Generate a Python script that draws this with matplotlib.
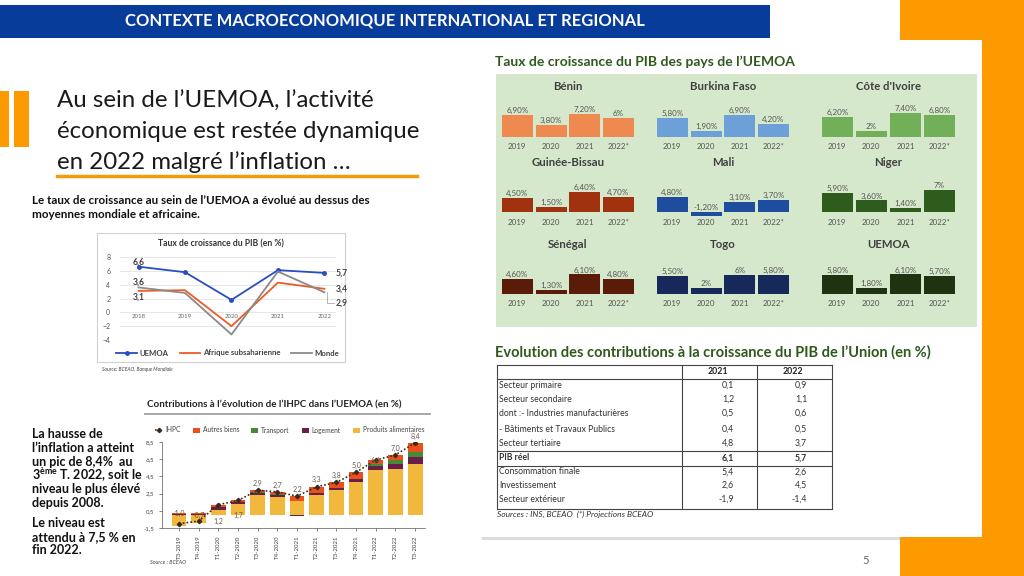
import matplotlib.pyplot as plt
import numpy as np
from matplotlib.patches import Rectangle
from matplotlib.lines import Line2D

plt.rcParams['font.family'] = ['Lato', 'DejaVu Sans']
plt.rcParams['mathtext.fontset'] = 'custom'
plt.rcParams['mathtext.rm'] = 'Lato'
plt.rcParams['mathtext.bf'] = 'Lato:bold'

# --- données : croissance du PIB (graphique en lignes)
years = ['2018', '2019', '2020', '2021', '2022']
pib_uemoa = [6.6, 5.8, 1.8, 6.1, 5.7]
pib_afrique = [3.1, 3.2, -2.0, 4.3, 3.4]
pib_monde = [3.6, 2.8, -3.2, 5.9, 2.9]

# --- données : contributions à l'IHPC
trimestres = ['T3-2019', 'T4-2019', 'T1-2020', 'T2-2020', 'T3-2020', 'T4-2020', 'T1-2021',
              'T2-2021', 'T3-2021', 'T4-2021', 'T1-2022', 'T2-2022', 'T3-2022']
ihpc = [-1.0, -0.7, 1.2, 1.7, 2.9, 2.7, 2.2, 3.3, 3.8, 5.0, 6.4, 7.0, 8.4]
alimentaires = [-1.25, -0.9, 0.65, 1.3, 2.3, 2.1, 1.6, 2.3, 2.9, 3.8, 5.2, 5.4, 6.0]
logement = [0.1, 0.1, 0.25, 0.2, 0.25, 0.2, -0.1, 0.25, 0.25, 0.35, 0.5, 0.55, 0.7]
transport = [0.05, 0.05, 0.05, 0.05, 0.1, 0.1, 0.05, 0.05, 0.05, 0.05, 0.3, 0.4, 0.6]
autres = [0.1, 0.05, 0.25, 0.15, 0.25, 0.3, 0.6, 0.7, 0.6, 0.8, 0.4, 0.65, 1.1]

# --- données : croissance par pays
pays_annees = ['2019', '2020', '2021', '2022*']
pays = ['Bénin', 'Burkina Faso', "Côte d'Ivoire", 'Guinée-Bissau', 'Mali', 'Niger',
        'Sénégal', 'Togo', 'UEMOA']
croissance = [
    [6.9, 3.8, 7.2, 6.0],
    [5.8, 1.9, 6.9, 4.2],
    [6.2, 2.0, 7.4, 6.8],
    [4.5, 1.5, 6.4, 4.7],
    [4.8, -1.2, 3.1, 3.7],
    [5.9, 3.6, 1.4, 7.0],
    [4.6, 1.3, 6.1, 4.8],
    [5.5, 2.0, 6.0, 5.8],
    [5.8, 1.8, 6.1, 5.7],
]
couleurs_pays = ['#ee8a4f', '#6d9fd9', '#71b059', '#a1320f', '#1f4d9d', '#2e5c1d',
                 '#5a1b08', '#17295a', '#1f3311']

# --- données : tableau des contributions
lignes_tab = ['Secteur primaire', 'Secteur secondaire', 'dont :- Industries manufacturières',
              '- Bâtiments et Travaux Publics', 'Secteur tertiaire', 'PIB réel',
              'Consommation finale', 'Investissement', 'Secteur extérieur']
tab_2021 = ['0,1', '1,2', '0,5', '0,4', '4,8', '6,1', '5,4', '2,6', '-1,9']
tab_2022 = ['0,9', '1,1', '0,6', '0,5', '3,7', '5,7', '2,6', '4,5', '-1,4']

W, H = 1024, 576
fig = plt.figure(figsize=(10.24, 5.76), dpi=100)


def px_axes(x0, y0, x1, y1):
    return fig.add_axes([x0 / W, 1 - y1 / H, (x1 - x0) / W, (y1 - y0) / H])


def px_text(x, y, s, **kw):
    kw.setdefault('va', 'center')
    fig.text(x / W, 1 - y / H, s, **kw)


def px_rect(x0, y0, x1, y1, **kw):
    kw.setdefault('zorder', -5)
    fig.patches.append(Rectangle((x0 / W, 1 - y1 / H), (x1 - x0) / W, (y1 - y0) / H,
                                 transform=fig.transFigure, **kw))


def px_line(x0, y0, x1, y1, **kw):
    fig.lines.append(Line2D([x0 / W, x1 / W], [1 - y0 / H, 1 - y1 / H],
                            transform=fig.transFigure, **kw))


def fr(v, nd=1):
    return f'{v:.{nd}f}'.replace('.', ',')


# fond de la diapositive
px_rect(900, 0, 1024, 576, color='#fd9a00', lw=0)
px_rect(0, 5, 770, 38, color='#073c9a', lw=0)
px_text(385, 21, 'CONTEXTE MACROECONOMIQUE INTERNATIONAL ET REGIONAL', color='white',
        fontsize=12, fontweight='bold', ha='center')
px_rect(0, 91, 9, 147, color='#fd9a00', lw=0)
px_rect(14, 91, 29, 147, color='#fd9a00', lw=0)
for i, t in enumerate(["Au sein de l’UEMOA, l’activité", 'économique est restée dynamique',
                       'en 2022 malgré l’inflation …']):
    px_text(57, 101 + 30.5 * i, t, fontsize=17.3, color='#1a1a1a')
px_line(57, 176, 417, 176, color='#f39c12', lw=2.5)
px_text(32, 201, 'Le taux de croissance au sein de l’UEMOA a évolué au dessus des',
        fontsize=8.4, fontweight='bold', color='#111111')
px_text(32, 215, 'moyennes mondiale et africaine.', fontsize=8.4, fontweight='bold', color='#111111')

# carte blanche à droite
px_rect(482, 43, 985, 540, color='#dcdcdc', lw=0, zorder=-6)
px_rect(479, 40, 982, 537, color='white', lw=0)
px_rect(496, 74, 977, 327, color='#d6e8cb', lw=0)
px_text(495, 62, 'Taux de croissance du PIB des pays de l’UEMOA', fontsize=10,
        fontweight='bold', color='#2f5a1c')

# --- graphique 1 : croissance du PIB
px_rect(97, 233, 345, 362, facecolor='white', edgecolor='#d0d0d0', lw=0.8)
px_text(221, 244, 'Taux de croissance du PIB (en %)', fontsize=6.2, fontweight='bold',
        color='#333333', ha='center')
ax1 = px_axes(120, 257, 336, 340)
x = np.arange(len(years))
l1, = ax1.plot(x, pib_uemoa, color='#2a4dc0', lw=1.3, marker='o', ms=2.5)
l2, = ax1.plot(x, pib_afrique, color='#f05a22', lw=1.3)
l3, = ax1.plot(x, pib_monde, color='#8a8a8a', lw=1.3)
ax1.set_ylim(-4, 8)
ax1.set_xlim(-0.4, 4.25)
ax1.set_yticks(range(-4, 9, 2))
ax1.yaxis.grid(True, color='#e3e3e3', lw=0.6)
ax1.set_axisbelow(True)
ax1.set_xticks([])
ax1.tick_params(axis='y', length=0, labelsize=5, labelcolor='#555555', pad=7)
for s in ax1.spines.values():
    s.set_visible(False)
ax1.patch.set_alpha(0)
for i, yr in enumerate(years):
    ax1.text(i, -0.6, yr, fontsize=4.4, color='#666666', ha='center', va='center')
lab_kw = dict(fontsize=6.2, fontweight='bold', color='#444444', va='center')
ax1.text(0, pib_uemoa[0] + 0.7, fr(pib_uemoa[0]), ha='center', **lab_kw)
ax1.text(0, pib_monde[0] + 0.8, fr(pib_monde[0]), ha='center', **lab_kw)
ax1.text(0, pib_afrique[0] - 0.9, fr(pib_afrique[0]), ha='center', **lab_kw)
ax1.text(4.25, pib_uemoa[4], fr(pib_uemoa[4]), ha='left', **lab_kw)
ax1.text(4.25, pib_afrique[4], fr(pib_afrique[4]), ha='left', **lab_kw)
ax1.text(4.25, pib_monde[4] - 1.6, fr(pib_monde[4]), ha='left', **lab_kw)
ax1.plot([4.05, 4.05, 4.2], [pib_monde[4], pib_monde[4] - 1.6, pib_monde[4] - 1.6],
         color='#999999', lw=0.5, clip_on=False)
fig.legend([l1, l2, l3], ['UEMOA', 'Afrique subsaharienne', 'Monde'], ncol=3,
           loc='center', bbox_to_anchor=(228 / W, 1 - 353 / H), frameon=False,
           prop={'size': 5.6, 'weight': 'bold'}, handlelength=2.6, columnspacing=1.4,
           handletextpad=0.4, labelcolor='#444444')
px_text(102, 370, 'Source: BCEAO, Banque Mondiale', fontsize=3.6, style='italic',
        color='#444444')

# --- graphique 2 : contributions à l'IHPC
px_text(147, 405, 'Contributions à l’évolution de l’IHPC dans l’UEMOA (en %)', fontsize=7,
        fontweight='bold', color='#222222')
px_line(145, 414, 430, 414, color='#a0a0a0', lw=1.3)
ax2 = px_axes(162, 442, 425, 528)
xq = np.arange(len(trimestres))
comps = [(alimentaires, '#f2b73d', 'Produits alimentaires'), (logement, '#6a1f4b', 'Logement'),
         (transport, '#468a36', 'Transport'), (autres, '#ea4f1c', 'Autres biens')]
pos = np.zeros(len(xq))
neg = np.zeros(len(xq))
handles = {}
for vals, col, name in comps:
    v = np.array(vals)
    bottom = np.where(v >= 0, pos, neg)
    handles[name] = ax2.bar(xq, v, 0.75, bottom=bottom, color=col, lw=0)
    pos = pos + np.where(v >= 0, v, 0)
    neg = neg + np.where(v < 0, v, 0)
h_ihpc, = ax2.plot(xq, ihpc, color='#3b2a1a', ls=(0, (1, 1.3)), lw=1.2, marker='D', ms=2.2)
lab_off = [1.2, 0.6, -1.9, -1.8, 0.8, 0.8, 0.8, 0.8, 0.8, 0.8, 0.0, 0.8, 0.8]
for i, v in enumerate(ihpc):
    ax2.text(i, v + lab_off[i], fr(v), fontsize=5, color='#6b5a4a', ha='center', va='center')
ax2.set_ylim(-1.5, 8.5)
ax2.set_xlim(-0.86, 12.5)
yt = [-1.5, 0.5, 2.5, 4.5, 6.5, 8.5]
ax2.set_yticks(yt)
ax2.set_yticklabels([fr(v) for v in yt])
ax2.set_xticks(xq)
ax2.set_xticklabels(trimestres, rotation=90)
ax2.tick_params(labelsize=4.4, labelcolor='#444444', length=2, width=0.5, color='#555555')
for s in ['top', 'right']:
    ax2.spines[s].set_visible(False)
for s in ['left', 'bottom']:
    ax2.spines[s].set_linewidth(0.5)
    ax2.spines[s].set_color('#555555')
ax2.patch.set_alpha(0)
fig.legend([h_ihpc, handles['Autres biens'], handles['Transport'], handles['Logement'],
            handles['Produits alimentaires']],
           ['IHPC', 'Autres biens', 'Transport', 'Logement', 'Produits alimentaires'],
           ncol=5, loc='center', bbox_to_anchor=(290 / W, 1 - 430 / H), frameon=False,
           prop={'size': 4.8}, handlelength=1, handleheight=0.8, columnspacing=1.8,
           handletextpad=0.5, labelcolor='#444444')
px_text(150, 563, 'Source : BCEAO', fontsize=3.9, style='italic', color='#444444')

# texte à gauche
left_lines = ['La hausse de', 'l’inflation a atteint', 'un pic de 8,4%  au',
              '3$^{\\mathbf{ème}}$ T. 2022, soit le', 'niveau le plus élevé', 'depuis 2008.']
for i, t in enumerate(left_lines):
    px_text(32, 434 + 13.8 * i, t, fontsize=9, fontweight='bold', color='#111111')
for i, t in enumerate(['Le niveau est', 'attendu à 7,5 % en', 'fin 2022.']):
    px_text(32, 523 + 13.7 * i, t, fontsize=9, fontweight='bold', color='#111111')

# --- petits graphiques par pays
col_x = [(500, 636), (655, 791), (820, 957)]
row_base = [137, 212, 294]
row_title = [86, 163, 245]
scale = 3.2
for k, (name, vals, col) in enumerate(zip(pays, croissance, couleurs_pays)):
    r, c = divmod(k, 3)
    x0, x1 = col_x[c]
    base = row_base[r]
    ax = px_axes(x0, base - 36, x1, base + 6)
    ax.set_xlim(-0.52, 3.52)
    ax.set_ylim(-6 / scale, 36 / scale)
    ax.bar(np.arange(4), vals, 0.92, color=col, lw=0)
    for i, v in enumerate(vals):
        t = f'{int(v)}%' if v == int(v) else fr(v, 2) + '%'
        ax.text(i, max(v, 0) + 1.4, t, fontsize=5.8, color='#555555', ha='center', va='center')
    ax.axis('off')
    for i, yr in enumerate(pays_annees):
        px_text(x0 + (i + 0.5) * (x1 - x0) / 4, base + 10, yr, fontsize=5.7,
                color='#555555', ha='center')
    px_text((x0 + x1) / 2, row_title[r], name, fontsize=8.2, fontweight='bold',
            color='#404040', ha='center')

# --- tableau
px_text(495, 352, 'Evolution des contributions à la croissance du PIB de l’Union (en %)',
        fontsize=10.5, fontweight='bold', color='#2f5a1c')
tl, c1, c2, tr = 497, 682, 757, 832
top, hbot, bot = 365, 379, 509
lw_t = dict(color='#444444', lw=0.8)
px_line(tl, top, tr, top, **lw_t)
px_line(tl, hbot, tr, hbot, **lw_t)
px_line(tl, bot, tr, bot, **lw_t)
for xx in (tl, c1, c2, tr):
    px_line(xx, top, xx, bot, **lw_t)
px_line(tl, 451, tr, 451, **lw_t)
px_line(tl, 466, tr, 466, **lw_t)
px_text(718, 372, '2021', fontsize=6.3, fontweight='bold', color='#222222', ha='center')
px_text(793, 372, '2022', fontsize=6.3, fontweight='bold', color='#222222', ha='center')
row_y = [385, 399, 413, 429, 443, 458, 472, 485, 499]
for lab, a, b, yy in zip(lignes_tab, tab_2021, tab_2022, row_y):
    wt = 'bold' if lab == 'PIB réel' else 'normal'
    px_text(499, yy, lab, fontsize=6.2, fontweight=wt, color='#333333')
    px_text(734, yy, a, fontsize=6.3, fontweight=wt, color='#333333', ha='right')
    px_text(807, yy, b, fontsize=6.3, fontweight=wt, color='#333333', ha='right')
px_text(497, 514, 'Sources : INS, BCEAO  (*) Projections BCEAO', fontsize=6, style='italic',
        color='#333333')

px_text(866, 561, '5', fontsize=8, color='#666666', ha='center')

fig.savefig('out.png', dpi=100)
